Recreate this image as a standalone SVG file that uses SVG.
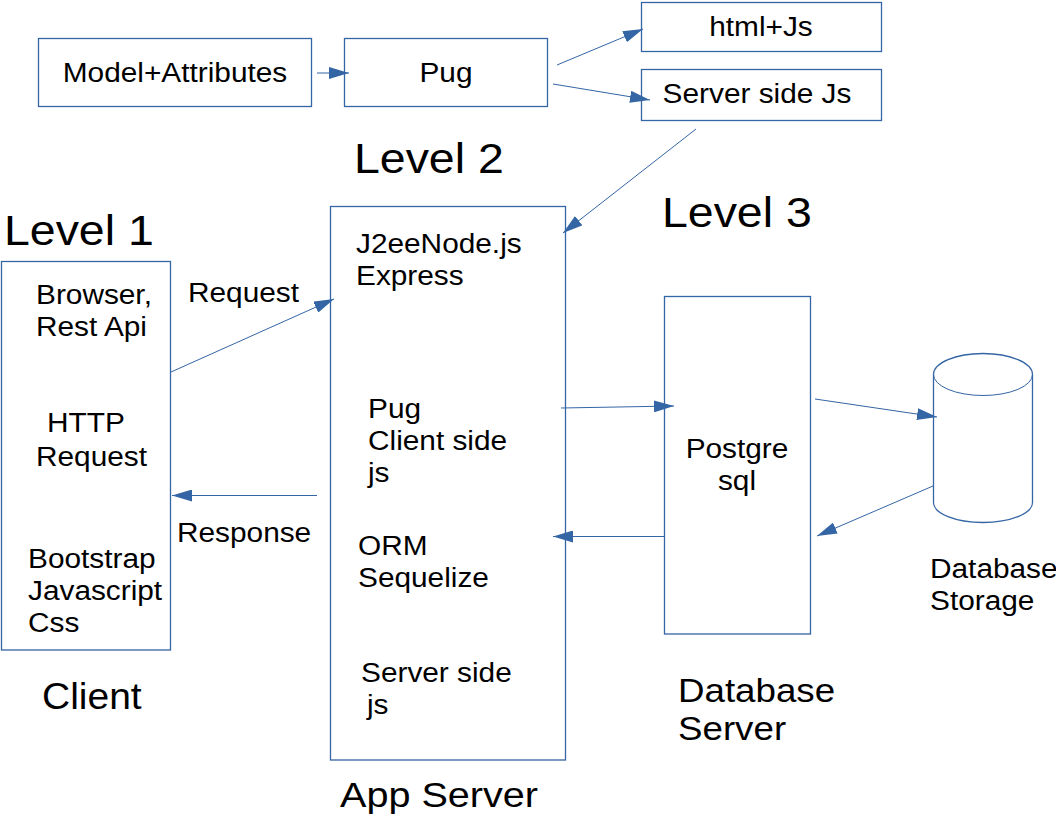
<svg xmlns="http://www.w3.org/2000/svg" width="1056" height="816" viewBox="0 0 1056 816">
<defs>
<style>
.box{fill:#fff;stroke:#3465a4;stroke-width:1.3}
.ln{fill:none;stroke:#3465a4;stroke-width:1}
.t{font-family:"Liberation Sans",Arial,sans-serif;font-size:28px;fill:#000}
.tc{text-anchor:middle}
.big{font-family:"Liberation Sans",Arial,sans-serif;font-size:43px;fill:#000}
</style>
<marker id="ah" markerUnits="userSpaceOnUse" markerWidth="20" markerHeight="12" refX="20" refY="6" orient="auto" viewBox="0 0 20 12">
<path d="M0,0 L20,6 L0,12 z" fill="#3465a4"/>
</marker>
</defs>
<rect width="1056" height="816" fill="#fff"/>

<g id="model"><rect class="box" x="38.5" y="38.5" width="273" height="68"/><text class="t tc" transform="translate(175 82) scale(1.065 1)">Model+Attributes</text></g>
<g id="pug"><rect class="box" x="344.5" y="38.5" width="203" height="68"/><text class="t tc" transform="translate(446 82) scale(1.065 1)">Pug</text></g>
<g id="htmljs"><rect class="box" x="641.5" y="2.5" width="240" height="49"/><text class="t tc" transform="translate(761 36) scale(1.065 1)">html+Js</text></g>
<g id="serverjs"><rect class="box" x="641.5" y="69.5" width="240" height="51"/><text class="t tc" transform="translate(757 103) scale(1.065 1)">Server side Js</text></g>

<g id="labels">
<text class="big" transform="translate(354 173) scale(1.08 1)">Level 2</text>
<text class="big" transform="translate(4 245) scale(1.08 1)">Level 1</text>
<text class="big" transform="translate(662 227) scale(1.08 1)">Level 3</text>
</g>

<g id="client">
<rect class="box" x="1.5" y="261.5" width="169" height="388.5"/>
<text class="t" transform="translate(36 304) scale(1.065 1)">Browser,</text>
<text class="t" transform="translate(36 336) scale(1.065 1)">Rest Api</text>
<text class="t" transform="translate(47 432) scale(1.065 1)">HTTP</text>
<text class="t" transform="translate(36 466) scale(1.065 1)">Request</text>
<text class="t" transform="translate(28 568) scale(1.065 1)">Bootstrap</text>
<text class="t" transform="translate(28 600) scale(1.065 1)">Javascript</text>
<text class="t" transform="translate(28 632) scale(1.065 1)">Css</text>
<text class="t" style="font-size:37.5px" transform="translate(42 709) scale(1.04 1)">Client</text>
</g>

<g id="appserver">
<rect class="box" x="330.5" y="206.5" width="235" height="553.5"/>
<text class="t" transform="translate(356 253) scale(1.065 1)">J2eeNode.js</text>
<text class="t" transform="translate(356 285) scale(1.065 1)">Express</text>
<text class="t" transform="translate(368 418) scale(1.065 1)">Pug</text>
<text class="t" transform="translate(368 450) scale(1.065 1)">Client side</text>
<text class="t" transform="translate(368 482) scale(1.065 1)">js</text>
<text class="t" transform="translate(358 555) scale(1.065 1)">ORM</text>
<text class="t" transform="translate(358 587) scale(1.065 1)">Sequelize</text>
<text class="t" transform="translate(361 682) scale(1.065 1)">Server side</text>
<text class="t" transform="translate(367 714) scale(1.065 1)">js</text>
<text class="t" style="font-size:36px" transform="translate(340 807) scale(1.1 1)">App Server</text>
</g>

<g id="postgres">
<rect class="box" x="664.5" y="296.5" width="146" height="337.5"/>
<text class="t tc" transform="translate(737 458) scale(1.065 1)">Postgre</text>
<text class="t tc" transform="translate(737 490) scale(1.065 1)">sql</text>
<text class="t" style="font-size:34px" transform="translate(678 702) scale(1.08 1)">Database</text>
<text class="t" style="font-size:34px" transform="translate(678 740) scale(1.08 1)">Server</text>
</g>

<g id="storage">
<path class="box" d="M933.5,374.5 V502.5 A49.5,20 0 0 0 1032.5,502.5 V374.5 A49.5,21 0 0 0 933.5,374.5 Z"/>
<path class="ln" d="M933.5,374.5 A49.5,21 0 0 0 1032.5,374.5" stroke-width="1.3"/>
<text class="t" transform="translate(930 578) scale(1.065 1)">Database</text>
<text class="t" transform="translate(930 610) scale(1.065 1)">Storage</text>
</g>

<g id="connectors">
<line class="ln" x1="317" y1="73" x2="349" y2="73" marker-end="url(#ah)"/>
<line class="ln" x1="557" y1="65" x2="643" y2="29" marker-end="url(#ah)"/>
<line class="ln" x1="553" y1="84" x2="650" y2="100" marker-end="url(#ah)"/>
<line class="ln" x1="696" y1="129" x2="563" y2="233" marker-end="url(#ah)"/>
<line class="ln" x1="171" y1="372" x2="334" y2="299" marker-end="url(#ah)"/>
<line class="ln" x1="317" y1="495.5" x2="172" y2="495.5" marker-end="url(#ah)"/>
<line class="ln" x1="561" y1="408" x2="674" y2="406" marker-end="url(#ah)"/>
<line class="ln" x1="664.5" y1="536.5" x2="553" y2="536.5" marker-end="url(#ah)"/>
<line class="ln" x1="815" y1="399" x2="937" y2="417" marker-end="url(#ah)"/>
<line class="ln" x1="933" y1="486" x2="817" y2="536" marker-end="url(#ah)"/>
<text class="t" transform="translate(188 302) scale(1.065 1)">Request</text>
<text class="t" transform="translate(177 542) scale(1.065 1)">Response</text>
</g>
</svg>
